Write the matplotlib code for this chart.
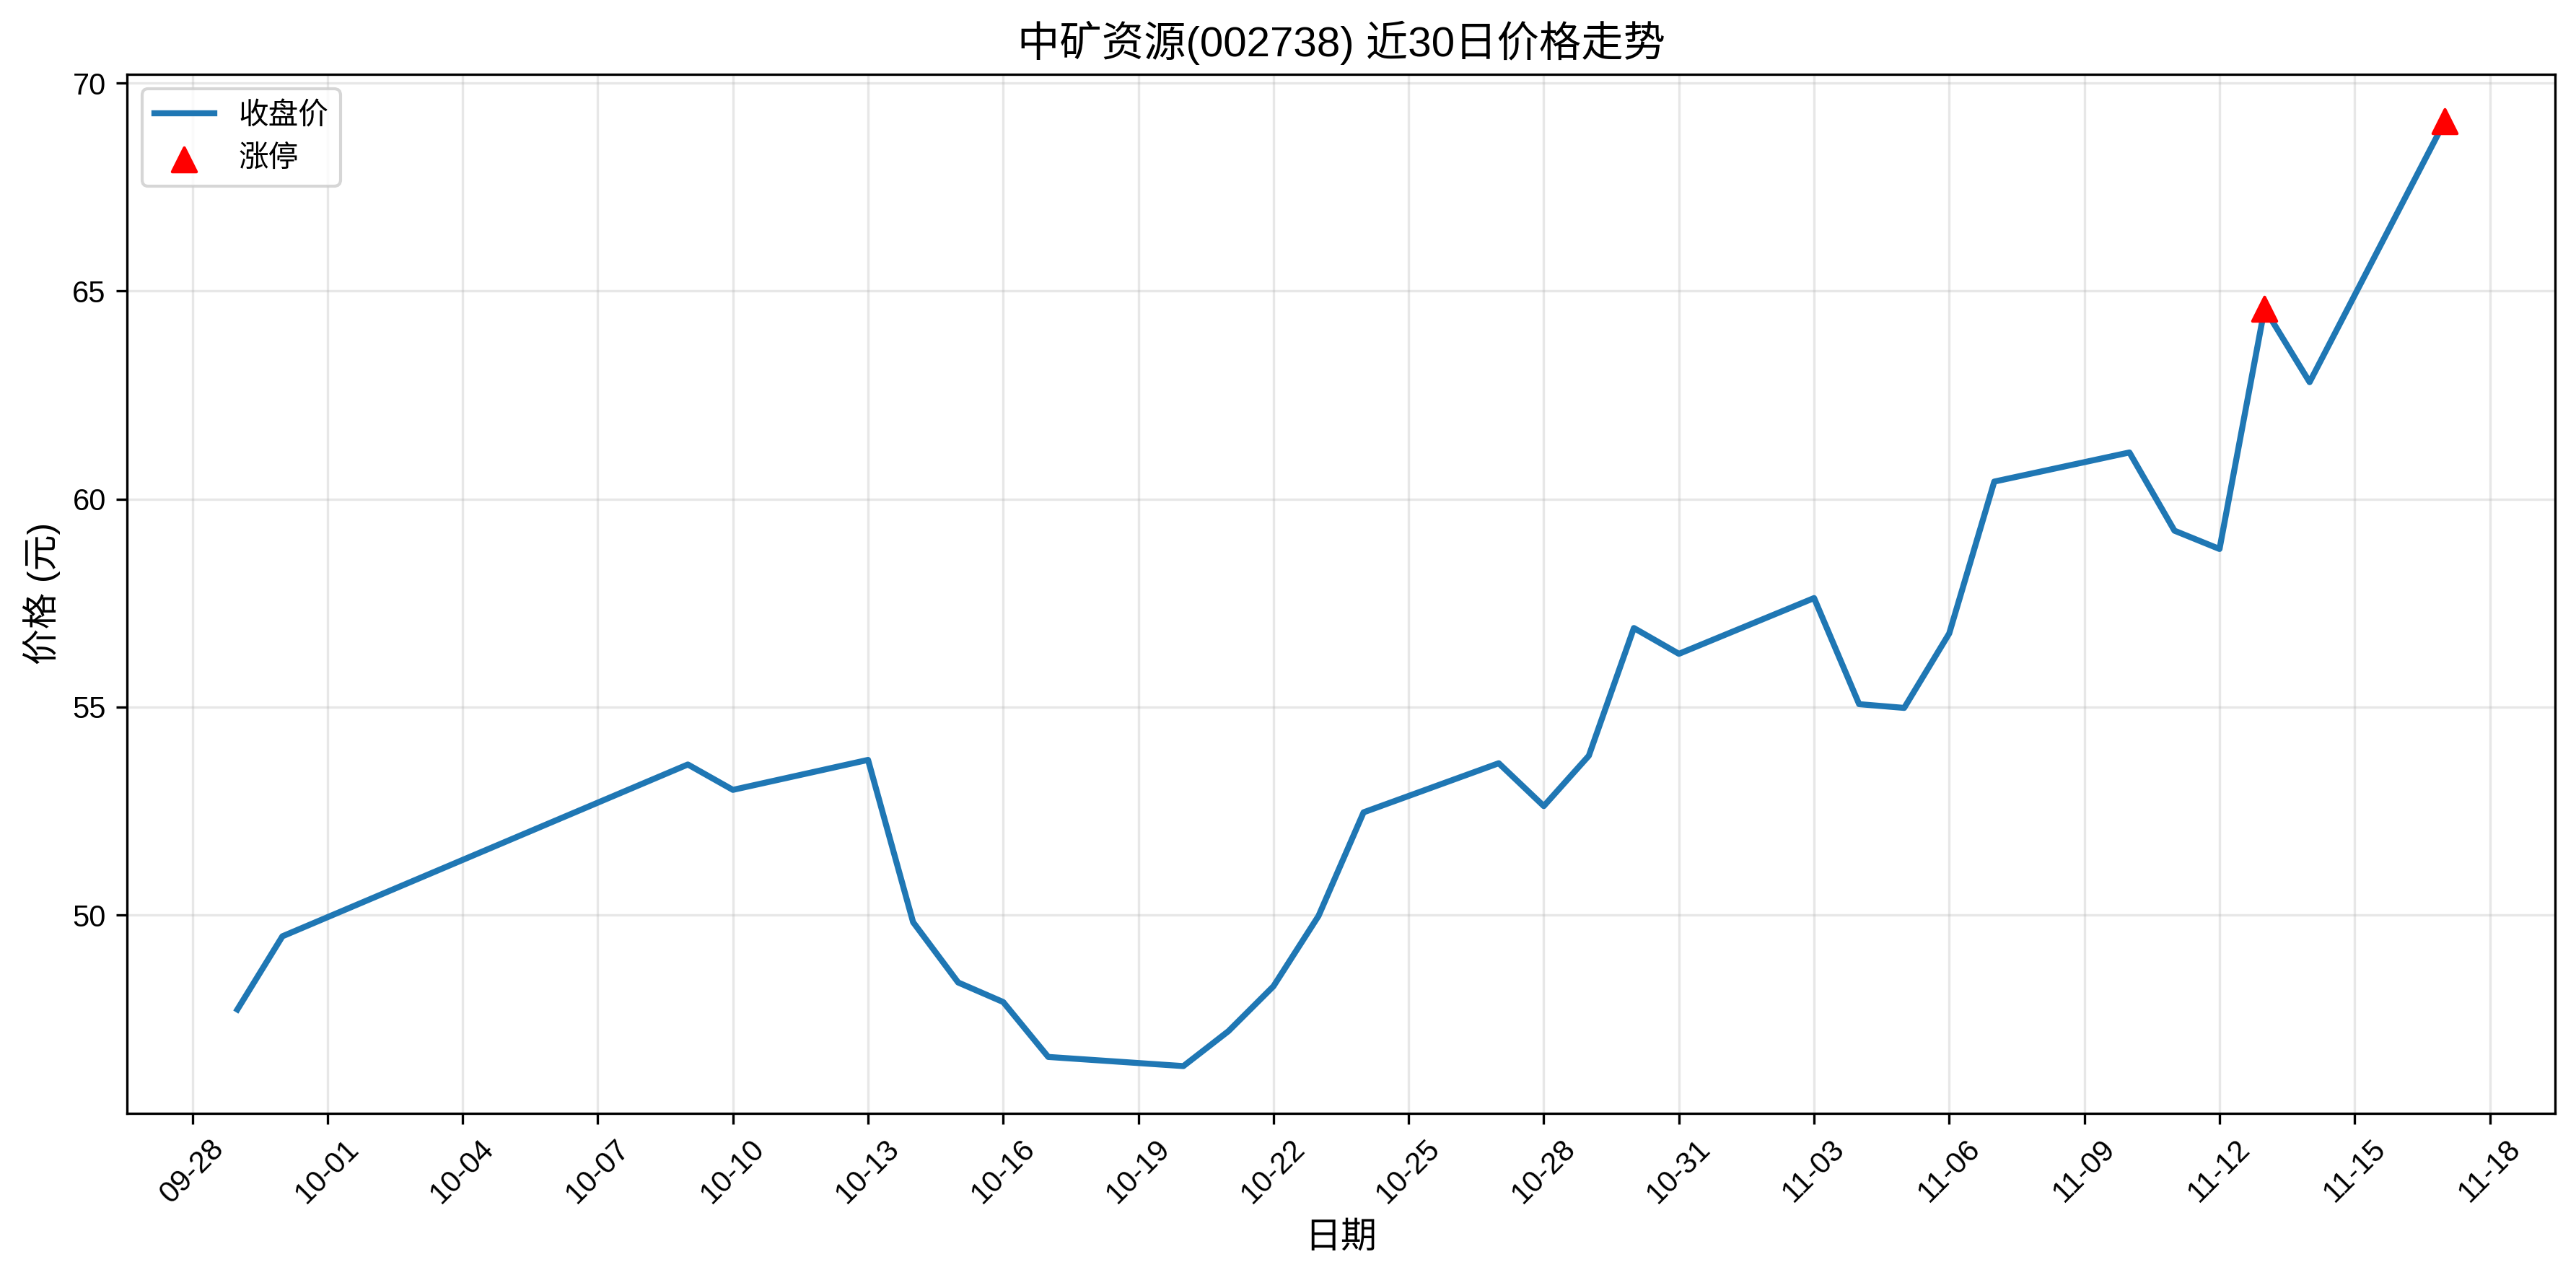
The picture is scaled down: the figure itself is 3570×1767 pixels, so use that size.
import matplotlib
matplotlib.use("Agg")
import matplotlib.pyplot as plt
import matplotlib.dates as mdates
import pandas as pd

plt.rcParams['font.family'] = ['Liberation Sans', 'Noto Sans CJK SC']

# trading days (2025) and closing prices
dates = ["2025-09-29", "2025-09-30", "2025-10-09", "2025-10-10", "2025-10-13",
         "2025-10-14", "2025-10-15", "2025-10-16", "2025-10-17", "2025-10-20",
         "2025-10-21", "2025-10-22", "2025-10-23", "2025-10-24", "2025-10-27",
         "2025-10-28", "2025-10-29", "2025-10-30", "2025-10-31", "2025-11-03",
         "2025-11-04", "2025-11-05", "2025-11-06", "2025-11-07", "2025-11-10",
         "2025-11-11", "2025-11-12", "2025-11-13", "2025-11-14", "2025-11-17"]
close = [47.73, 49.49, 53.62, 53.01, 53.73,
         49.83, 48.38, 47.91, 46.59, 46.37,
         47.21, 48.29, 49.98, 52.47, 53.65,
         52.62, 53.83, 56.90, 56.28, 57.62,
         55.07, 54.98, 56.77, 60.42, 61.12,
         59.24, 58.80, 64.58, 62.81, 69.08]

# limit-up days
limit_up_dates = ["2025-11-13", "2025-11-17"]

title = "中矿资源(002738) 近30日价格走势"

dates = pd.to_datetime(dates)
limit_up_dates = pd.to_datetime(limit_up_dates)
price_map = dict(zip(dates, close))
limit_up_prices = [price_map[d] for d in limit_up_dates]

fig = plt.figure(figsize=(11.9, 5.89), dpi=300)
ax = fig.add_axes([0.0493, 0.1268, 0.9426, 0.8151])

ax.plot(dates, close, color='#1f77b4', linewidth=2, label='收盘价')
ax.scatter(limit_up_dates, limit_up_prices, color='red', marker='^', s=64,
           zorder=5, label='涨停')

ax.set_title(title, fontsize=14)
ax.set_xlabel('日期', fontsize=12)
ax.set_ylabel('价格 (元)', fontsize=12)
ax.legend(loc='upper left', fontsize=10)
ax.grid(True, alpha=0.3)

ax.set_xticks(pd.date_range("2025-09-28", "2025-11-18", freq="3D"))
ax.xaxis.set_major_formatter(mdates.DateFormatter('%m-%d'))
plt.setp(ax.get_xticklabels(), rotation=45)
ax.tick_params(labelsize=10)

fig.savefig("out.png", dpi=300)
